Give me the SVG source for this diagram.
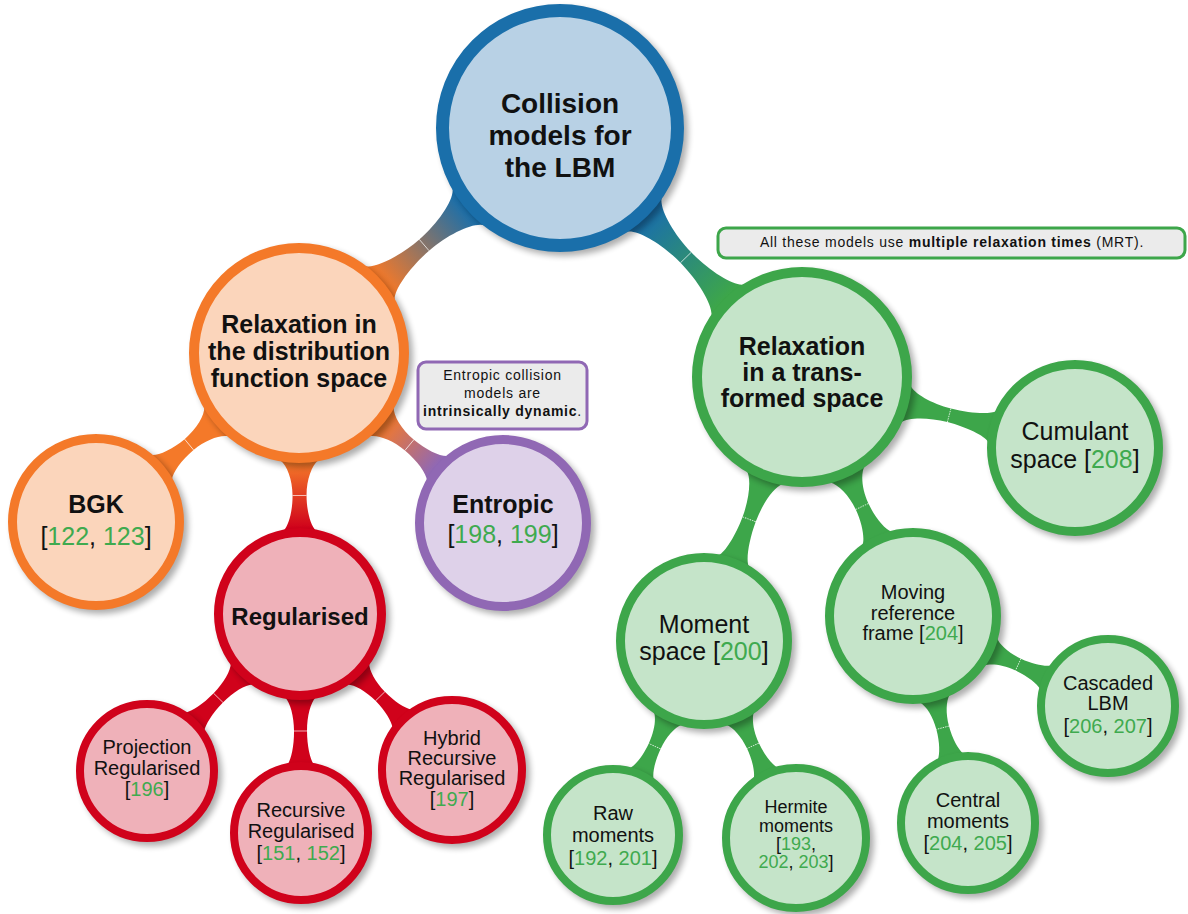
<svg xmlns="http://www.w3.org/2000/svg" width="1188" height="914" viewBox="0 0 1188 914">
<style>
.t{font-family:"Liberation Sans",Arial,sans-serif;fill:#111;text-anchor:middle}
.b{font-weight:bold}
.r{fill:#3faa4f}
.sh{fill:#000;opacity:.32;filter:url(#blur)}
.seam{stroke:#fff;stroke-width:.9;opacity:.75}
.seamd{stroke:#fff;stroke-width:.9;opacity:.8;stroke-dasharray:1.5 1}
.blue{fill:#b8d1e5;stroke:#1a6faa}
.orange{fill:#fbd5bb;stroke:#f47929}
.red{fill:#efb1b9;stroke:#d0021b}
.purple{fill:#ded1e9;stroke:#9068b4}
.green{fill:#c5e4c9;stroke:#3da64a}
.note{fill:#ebebeb;stroke-width:3}
.nt{font-family:"Liberation Sans",Arial,sans-serif;fill:#111;text-anchor:middle;font-size:14px;letter-spacing:.75px}
</style>
<defs>
<filter id="blur" x="-20%" y="-20%" width="140%" height="140%"><feGaussianBlur stdDeviation="3"/></filter>
<linearGradient id="gC1" gradientUnits="userSpaceOnUse" x1="124" y1="0" x2="234.6" y2="0"><stop offset="0" stop-color="#1a6faa"/><stop offset="1" stop-color="#f47929"/></linearGradient>
<linearGradient id="gC2" gradientUnits="userSpaceOnUse" x1="124" y1="0" x2="237.2" y2="0"><stop offset="0" stop-color="#1a6faa"/><stop offset="1" stop-color="#3da64a"/></linearGradient>
<linearGradient id="gC4" gradientUnits="userSpaceOnUse" x1="110" y1="0" x2="175" y2="0"><stop offset="0" stop-color="#f47929"/><stop offset="1" stop-color="#d0021b"/></linearGradient>
<linearGradient id="gC5" gradientUnits="userSpaceOnUse" x1="110" y1="0" x2="177.5" y2="0"><stop offset="0" stop-color="#f47929"/><stop offset="1" stop-color="#9068b4"/></linearGradient>
</defs>

<g id="connectors">
<g transform="translate(560,128) rotate(139.24)">
<path fill="url(#gC1)" d="M120.5,-25 C125.5,-15.4 152.8,-7.5 179.3,-7.5 C205.7,-7.5 233,-14.5 238,-23 L238,23 C233,14.5 205.7,7.5 179.3,7.5 C152.8,7.5 125.5,15.4 120.5,25 Z"/>
<line class="seam" x1="179.3" y1="-7.5" x2="179.3" y2="7.5"/>
</g>
<g transform="translate(560,128) rotate(45.81)">
<path fill="url(#gC2)" d="M120.5,-25 C125.5,-15.4 153.6,-7.5 180.6,-7.5 C207.6,-7.5 235.6,-14.5 240.6,-23 L240.6,23 C235.6,14.5 207.6,7.5 180.6,7.5 C153.6,7.5 125.5,15.4 120.5,25 Z"/>
<line class="seam" x1="180.6" y1="-7.5" x2="180.6" y2="7.5"/>
</g>
<g transform="translate(299,353) rotate(140.22)">
<path fill="#f47929" d="M107.4,-19 C112.4,-12.4 127,-7 143.05,-7 C159.05,-7 173.6,-11 178.6,-16 L178.6,16 C173.6,11 159.05,7 143.05,7 C127,7 112.4,12.4 107.4,19 Z"/>
<line class="seam" x1="143.05" y1="-7" x2="143.05" y2="7"/>
</g>
<g transform="translate(299,353) rotate(89.78)">
<path fill="url(#gC4)" d="M107.4,-19 C112.4,-12.4 126.7,-7 142.5,-7 C158.25,-7 172.5,-11 177.5,-16 L177.5,16 C172.5,11 158.25,7 142.5,7 C126.7,7 112.4,12.4 107.4,19 Z"/>
<line class="seam" x1="142.5" y1="-7" x2="142.5" y2="7"/>
</g>
<g transform="translate(299,353) rotate(39.81)">
<path fill="url(#gC5)" d="M107.4,-19 C112.4,-12.4 127.4,-7 143.75,-7 C160.1,-7 175,-11 180,-16 L180,16 C175,11 160.1,7 143.75,7 C127.4,7 112.4,12.4 107.4,19 Z"/>
<line class="seam" x1="143.75" y1="-7" x2="143.75" y2="7"/>
</g>
<g transform="translate(802,377) rotate(110.37)">
<path fill="#3da64a" d="M107.4,-19 C112.4,-12.4 131.8,-7 151.8,-7 C171.7,-7 191.1,-11 196.1,-16 L196.1,16 C191.1,11 171.7,7 151.8,7 C131.8,7 112.4,12.4 107.4,19 Z"/>
<line class="seamd" x1="151.8" y1="-7" x2="151.8" y2="7"/>
</g>
<g transform="translate(802,377) rotate(65.09)">
<path fill="#3da64a" d="M107.4,-19 C112.4,-12.4 126.8,-7 142.75,-7 C158.6,-7 173,-11 178,-16 L178,16 C173,11 158.6,7 142.75,7 C126.8,7 112.4,12.4 107.4,19 Z"/>
<line class="seamd" x1="142.75" y1="-7" x2="142.75" y2="7"/>
</g>
<g transform="translate(802,377) rotate(14.58)">
<path fill="#3da64a" d="M107.4,-19 C112.4,-12.4 132,-7 152.05,-7 C172.1,-7 191.6,-11 196.6,-16 L196.6,16 C191.6,11 172.1,7 152.05,7 C132,7 112.4,12.4 107.4,19 Z"/>
<line class="seamd" x1="152.05" y1="-7" x2="152.05" y2="7"/>
</g>
<g transform="translate(300,614) rotate(134.26)">
<path fill="#d0021b" d="M83.7,-15 C88.7,-10.3 102.1,-6.5 117.1,-6.5 C132.1,-6.5 145.4,-9.4 150.4,-13 L150.4,13 C145.4,9.4 132.1,6.5 117.1,6.5 C102.1,6.5 88.7,10.3 83.7,15 Z"/>
<line class="seam" x1="117.1" y1="-6.5" x2="117.1" y2="6.5"/>
</g>
<g transform="translate(300,614) rotate(89.74)">
<path fill="#d0021b" d="M83.7,-15 C88.7,-10.3 102,-6.5 117,-6.5 C131.9,-6.5 145.2,-9.4 150.2,-13 L150.2,13 C145.2,9.4 131.9,6.5 117,6.5 C102,6.5 88.7,10.3 83.7,15 Z"/>
<line class="seam" x1="117" y1="-6.5" x2="117" y2="6.5"/>
</g>
<g transform="translate(300,614) rotate(45.74)">
<path fill="#d0021b" d="M83.7,-15 C88.7,-10.3 100.9,-6.5 114.9,-6.5 C128.85,-6.5 140.9,-9.4 145.9,-13 L145.9,13 C140.9,9.4 128.85,6.5 114.9,6.5 C100.9,6.5 88.7,10.3 83.7,15 Z"/>
<line class="seam" x1="114.9" y1="-6.5" x2="114.9" y2="6.5"/>
</g>
<g transform="translate(704,641) rotate(115.13)">
<path fill="#3da64a" d="M85.7,-15 C90.7,-10.3 102.45,-6.5 116.15,-6.5 C129.8,-6.5 141.5,-9.4 146.5,-13 L146.5,13 C141.5,9.4 129.8,6.5 116.15,6.5 C102.45,6.5 90.7,10.3 85.7,15 Z"/>
<line class="seamd" x1="116.15" y1="-6.5" x2="116.15" y2="6.5"/>
</g>
<g transform="translate(704,641) rotate(64.97)">
<path fill="#3da64a" d="M85.7,-15 C90.7,-10.3 102.2,-6.5 115.7,-6.5 C129.1,-6.5 140.5,-9.4 145.5,-13 L145.5,13 C140.5,9.4 129.1,6.5 115.7,6.5 C102.2,6.5 90.7,10.3 85.7,15 Z"/>
<line class="seamd" x1="115.7" y1="-6.5" x2="115.7" y2="6.5"/>
</g>
<g transform="translate(913,616) rotate(75.12)">
<path fill="#3da64a" d="M85.7,-15 C90.7,-10.3 102.15,-6.5 115.6,-6.5 C129,-6.5 140.4,-9.4 145.4,-13 L145.4,13 C140.4,9.4 129,6.5 115.6,6.5 C102.15,6.5 90.7,10.3 85.7,15 Z"/>
<line class="seamd" x1="115.6" y1="-6.5" x2="115.6" y2="6.5"/>
</g>
<g transform="translate(913,616) rotate(24.78)">
<path fill="#3da64a" d="M85.7,-15 C90.7,-10.3 102.3,-6.5 115.9,-6.5 C129.45,-6.5 141,-9.4 146,-13 L146,13 C141,9.4 129.45,6.5 115.9,6.5 C102.3,6.5 90.7,10.3 85.7,15 Z"/>
<line class="seamd" x1="115.9" y1="-6.5" x2="115.9" y2="6.5"/>
</g>
</g>

<g id="n-root">
<circle class="sh" cx="564" cy="132" r="124"/>
<circle class="blue" cx="560" cy="128" r="117.5" stroke-width="13"/>
<text class="t b" font-size="28"><tspan x="560" y="113">Collision</tspan><tspan x="560" y="145">models for</tspan><tspan x="560" y="177">the LBM</tspan></text>
</g>

<g id="n-distribution">
<circle class="sh" cx="303" cy="357" r="110"/>
<circle class="orange" cx="299" cy="353" r="105" stroke-width="10"/>
<text class="t b" font-size="25"><tspan x="299" y="333">Relaxation in</tspan><tspan x="299" y="360">the distribution</tspan><tspan x="299" y="387">function space</tspan></text>
</g>

<g id="n-transformed">
<circle class="sh" cx="806" cy="381" r="110"/>
<circle class="green" cx="802" cy="377" r="105" stroke-width="10"/>
<text class="t b" font-size="25"><tspan x="802" y="355">Relaxation</tspan><tspan x="802" y="381">in a trans-</tspan><tspan x="802" y="407">formed space</tspan></text>
</g>

<g id="n-bgk">
<circle class="sh" cx="100" cy="526" r="88"/>
<circle class="orange" cx="96" cy="522" r="83.5" stroke-width="9"/>
<text class="t b" font-size="25" x="96" y="513">BGK</text>
<text class="t" font-size="25" x="96" y="545">[<tspan class="r">122</tspan>, <tspan class="r">123</tspan>]</text>
</g>

<g id="n-entropic">
<circle class="sh" cx="507" cy="527" r="88"/>
<circle class="purple" cx="503" cy="523" r="83.5" stroke-width="9"/>
<text class="t b" font-size="25" x="503" y="513">Entropic</text>
<text class="t" font-size="25" x="503" y="543">[<tspan class="r">198</tspan>, <tspan class="r">199</tspan>]</text>
</g>

<g id="note-entropic">
<rect class="note" x="418" y="362" width="169" height="67" rx="8" stroke="#9068b4"/>
<text class="nt"><tspan x="502.5" y="380">Entropic collision</tspan><tspan x="502.5" y="398">models are</tspan><tspan x="502.5" y="416"><tspan font-weight="bold">intrinsically dynamic</tspan>.</tspan></text>
</g>

<g id="n-regularised">
<circle class="sh" cx="304" cy="618" r="86"/>
<circle class="red" cx="300" cy="614" r="81.5" stroke-width="9"/>
<text class="t b" font-size="24" x="300" y="625">Regularised</text>
</g>

<g id="n-projection">
<circle class="sh" cx="151" cy="775" r="71"/>
<circle class="red" cx="147" cy="771" r="67" stroke-width="8"/>
<text class="t" font-size="20"><tspan x="147" y="754">Projection</tspan><tspan x="147" y="775">Regularised</tspan><tspan x="147" y="796">[<tspan class="r">196</tspan>]</tspan></text>
</g>

<g id="n-recursive">
<circle class="sh" cx="305" cy="837" r="71"/>
<circle class="red" cx="301" cy="833" r="67" stroke-width="8"/>
<text class="t" font-size="20"><tspan x="301" y="817">Recursive</tspan><tspan x="301" y="838">Regularised</tspan><tspan x="301" y="860">[<tspan class="r">151</tspan>, <tspan class="r">152</tspan>]</tspan></text>
</g>

<g id="n-hybrid">
<circle class="sh" cx="456" cy="774" r="74"/>
<circle class="red" cx="452" cy="770" r="70" stroke-width="8"/>
<text class="t" font-size="20"><tspan x="452" y="745">Hybrid</tspan><tspan x="452" y="765">Recursive</tspan><tspan x="452" y="785">Regularised</tspan><tspan x="452" y="806">[<tspan class="r">197</tspan>]</tspan></text>
</g>

<g id="note-mrt">
<rect class="note" x="718" y="228" width="467" height="30" rx="8" stroke="#3da64a"/>
<text class="nt" x="952" y="247" letter-spacing="0.95">All these models use <tspan font-weight="bold">multiple relaxation times</tspan> (MRT).</text>
</g>

<g id="n-moment">
<circle class="sh" cx="708" cy="645" r="88"/>
<circle class="green" cx="704" cy="641" r="83.5" stroke-width="9"/>
<text class="t" font-size="25"><tspan x="704" y="633">Moment</tspan><tspan x="704" y="660">space [<tspan class="r">200</tspan>]</tspan></text>
</g>

<g id="n-moving">
<circle class="sh" cx="917" cy="620" r="88"/>
<circle class="green" cx="913" cy="616" r="83.5" stroke-width="9"/>
<text class="t" font-size="20"><tspan x="913" y="599">Moving</tspan><tspan x="913" y="620">reference</tspan><tspan x="913" y="640">frame [<tspan class="r">204</tspan>]</tspan></text>
</g>

<g id="n-cumulant">
<circle class="sh" cx="1079" cy="452" r="88"/>
<circle class="green" cx="1075" cy="448" r="83.5" stroke-width="9"/>
<text class="t" font-size="25"><tspan x="1075" y="440">Cumulant</tspan><tspan x="1075" y="468">space [<tspan class="r">208</tspan>]</tspan></text>
</g>

<g id="n-raw">
<circle class="sh" cx="617" cy="839" r="70"/>
<circle class="green" cx="613" cy="835" r="66" stroke-width="8"/>
<text class="t" font-size="20"><tspan x="613" y="820">Raw</tspan><tspan x="613" y="842">moments</tspan><tspan x="613" y="865">[<tspan class="r">192</tspan>, <tspan class="r">201</tspan>]</tspan></text>
</g>

<g id="n-hermite">
<circle class="sh" cx="800" cy="842" r="74"/>
<circle class="green" cx="796" cy="838" r="70" stroke-width="8"/>
<text class="t" font-size="18"><tspan x="796" y="813">Hermite</tspan><tspan x="796" y="832">moments</tspan><tspan x="796" y="850">[<tspan class="r">193</tspan>,</tspan><tspan x="796" y="868"><tspan class="r">202</tspan>, <tspan class="r">203</tspan>]</tspan></text>
</g>

<g id="n-central">
<circle class="sh" cx="972" cy="827" r="71"/>
<circle class="green" cx="968" cy="823" r="67" stroke-width="8"/>
<text class="t" font-size="20"><tspan x="968" y="807">Central</tspan><tspan x="968" y="828">moments</tspan><tspan x="968" y="850">[<tspan class="r">204</tspan>, <tspan class="r">205</tspan>]</tspan></text>
</g>

<g id="n-cascaded">
<circle class="sh" cx="1112" cy="710" r="71"/>
<circle class="green" cx="1108" cy="706" r="67" stroke-width="8"/>
<text class="t" font-size="20"><tspan x="1108" y="690">Cascaded</tspan><tspan x="1108" y="710">LBM</tspan><tspan x="1108" y="733">[<tspan class="r">206</tspan>, <tspan class="r">207</tspan>]</tspan></text>
</g>
</svg>
